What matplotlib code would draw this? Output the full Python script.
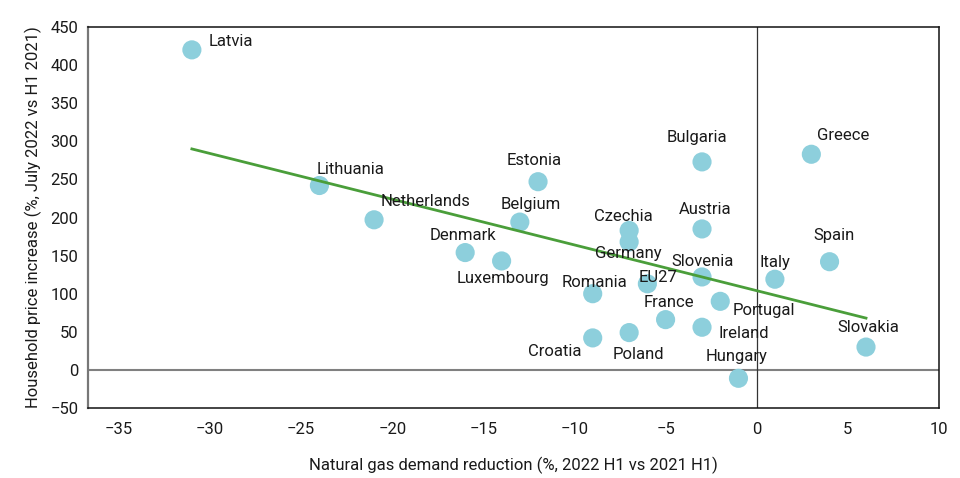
import matplotlib
matplotlib.use("Agg")
import matplotlib.pyplot as plt

countries = ["Latvia", "Lithuania", "Netherlands", "Denmark", "Luxembourg", "Belgium",
             "Estonia", "Romania", "Croatia", "Czechia", "Germany", "Poland", "EU27",
             "France", "Bulgaria", "Austria", "Slovenia", "Ireland", "Portugal",
             "Hungary", "Italy", "Greece", "Spain", "Slovakia"]
demand_reduction = [-31.0, -24.0, -21.0, -16.0, -14.0, -13.0,
                    -12.0, -9.0, -9.0, -7.0, -7.0, -7.0, -6.0,
                    -5.0, -3.0, -3.0, -3.0, -3.0, -2.0,
                    -1.0, 1.0, 3.0, 4.0, 6.0]
price_increase = [420, 242, 197, 154, 143, 194,
                  247, 100, 42, 183, 168, 49, 113,
                  66, 273, 185, 122, 56, 90,
                  -11, 119, 283, 142, 30]
trend_x = [-31.0, 6.0]
trend_y = [290, 68]
xticks = [-35, -30, -25, -20, -15, -10, -5, 0, 5, 10]
yticks = [-50, 0, 50, 100, 150, 200, 250, 300, 350, 400, 450]

# label offsets in pixels (dx, dy) and horizontal alignment
label_pos = {
    "Latvia": (17, 8, "left"), "Lithuania": (31, 16, "center"),
    "Netherlands": (51, 18, "center"), "Denmark": (-2, 17, "center"),
    "Luxembourg": (1, -18, "center"), "Belgium": (11, 18, "center"),
    "Estonia": (-4, 21, "center"), "Romania": (2, 11, "center"),
    "Croatia": (-11, -14, "right"), "Czechia": (-6, 14, "center"),
    "Germany": (-1, -12, "center"), "Poland": (9, -22, "center"),
    "EU27": (11, 6, "center"), "France": (3, 17, "center"),
    "Bulgaria": (-5, 24, "center"), "Austria": (3, 19, "center"),
    "Slovenia": (1, 15, "center"), "Ireland": (16, -6, "left"),
    "Portugal": (12, -9, "left"), "Hungary": (-2, 22, "center"),
    "Italy": (0, 17, "center"), "Greece": (6, 19, "left"),
    "Spain": (4, 26, "center"), "Slovakia": (2, 20, "center"),
}

plt.rcParams["font.family"] = ["Roboto", "DejaVu Sans"]

fig = plt.figure(figsize=(9.6, 4.78), dpi=100)
ax = fig.add_axes([0.0917, 0.1464, 0.8863, 0.7971])

ax.axhline(0, color="#808080", lw=1.5, zorder=1)
ax.axvline(0, color="#333333", lw=0.9, zorder=1)
ax.scatter(demand_reduction, price_increase, s=190, color="#8DCFDC", edgecolors="none", zorder=2)
ax.plot(trend_x, trend_y, color="#4A9E3A", lw=2, zorder=3)

for c, x, y in zip(countries, demand_reduction, price_increase):
    dx, dy, ha = label_pos[c]
    ax.annotate(c, (x, y), xytext=(dx, dy), textcoords="offset pixels",
                ha=ha, va="center", fontsize=12, color="#1a1a1a", zorder=4)

ax.set_xlim(-36.7, 10)
ax.set_ylim(-49, 450)
ax.set_xticks(xticks)
ax.set_yticks(yticks)
ax.tick_params(axis="both", length=0, labelsize=12, colors="#1a1a1a", pad=7)
ax.tick_params(axis="x", pad=10)

for s in ["top", "right", "bottom"]:
    ax.spines[s].set_color("#111111")
    ax.spines[s].set_linewidth(1.1)
ax.spines["left"].set_color("#777777")
ax.spines["left"].set_linewidth(1.6)

ax.set_xlabel("Natural gas demand reduction (%, 2022 H1 vs 2021 H1)", fontsize=12, labelpad=14, color="#1a1a1a")
ax.set_ylabel("Household price increase (%, July 2022 vs H1 2021)", fontsize=12, labelpad=6, color="#1a1a1a")

fig.savefig("out.png", dpi=100)
